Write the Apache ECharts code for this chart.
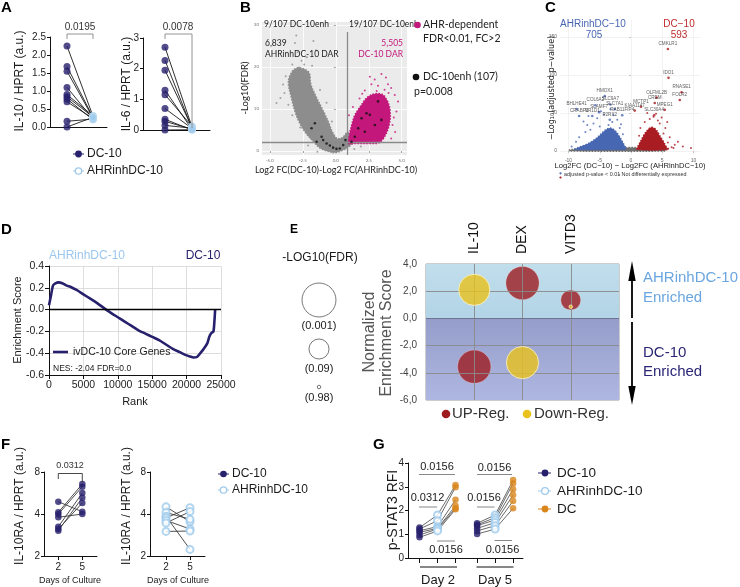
<!DOCTYPE html>
<html><head><meta charset="utf-8">
<script src="https://cdn.jsdelivr.net/npm/echarts@6/dist/echarts.min.js"></script>
<style>html,body{margin:0;padding:0;background:#fff}#c{width:740px;height:587px}</style>
</head><body><div id="c"></div>
<script>
// ---------------- DATA ----------------
// Panel A (paired DC-10 vs AHRinhDC-10)
const aGroups = ['DC-10', 'AHRinhDC-10'];
const aIL10_DC10 = [2.25, 1.68, 1.55, 1.1, 0.9, 0.84, 0.78, 0.7, 0.16, 0.0];
const aIL10_AHR  = [0.30, 0.27, 0.25, 0.22, 0.31, 0.28, 0.20, 0.24, 0.22, 0.27];
const aIL6_DC10  = [2.7, 2.27, 1.95, 1.3, 1.15, 0.7, 0.35, 0.28, 0.15, 0.0];
const aIL6_AHR   = [0.10, 0.05, 0.08, 0.02, 0.12, 0.05, 0.0, 0.03, 0.06, 0.01];

// Panel B (ATAC volcano): dense cloud outlines + individual points
const bGrayCloud = [[-0.3,-0.3],[-1.1,0.5],[-1.7,2.2],[-2.35,4.6],[-2.8,7],[-3.1,9.4],[-3.36,12.5],[-3.6,16.5],[-3.3,19],[-2.9,19.8],[-2.4,19.5],[-2.0,18.5],[-1.9,16],[-1.5,13],[-1.1,10.5],[-0.86,9],[-0.5,6.5],[-0.25,4.5],[0.1,3],[0.5,3.2],[0.9,4.5],[1.1,3],[1.2,1.8],[0.9,0.8],[0.4,0],[0,-0.4]];
const bMagCloud = [[0.95,1.8],[1.0,3.5],[1.2,6.2],[1.45,8.6],[1.95,11],[2.3,12.5],[2.8,13.5],[3.5,13.5],[3.9,12],[4.1,10],[4.1,7],[3.8,4],[3.3,2],[2.5,1.8],[1.5,1.8]];
const bGrayPts = [[-3.1,25.7],[-1.7,26.2],[-1.5,24],[-2.2,22.3],[-2.6,21.5],[-3.3,20.6],[-1.8,20.3],[-3.8,17.8],[-4.0,15.8],[-3.9,13.8],[-4.2,12.6],[-4.5,11.4],[-3.6,11],[-3.3,8.5],[-2.7,5.6],[-0.3,7],[-0.7,11.5],[-1.2,14.5],[1.4,0.5],[1.9,1.1],[-2.1,1.3],[-1.4,-0.2],[-2.8,19.9],[-2.4,20.6],[-3.0,27.5],[-2.9,23.5]];
const bMagPts = [[2.58,17.7],[2.95,17],[3.46,18.3],[3.8,17.5],[3.96,15.9],[4.2,15],[2.7,15.9],[3.2,15.5],[2.2,14.4],[4.47,13.3],[4.72,11.8],[4.6,9.4],[4.3,6.2],[4.4,8],[1.8,12.5],[2.0,13.6],[3.7,14.6],[4.0,13.8],[3.1,14.3],[4.5,4.5],[4.2,3],[1.0,8.5],[1.3,10.5]];
const bEnhPts = [[-1.59,6.6],[-1.08,3.4],[-0.96,2.6],[-0.7,1.8],[-0.45,1.3],[-0.2,0.8],[0.05,0.5],[0.3,0.6],[0.56,1.4],[0.73,2.6],[1.19,2.2],[1.44,3.4],[1.7,5.4],[1.95,7.8],[2.33,9],[2.58,8.6],[3.2,11.8],[2.96,6.2],[2.2,4.6],[3.46,7.4],[-1.46,2.2],[-1.84,5.4]];
const bXTicks = [-5, -2.5, 0, 2.5, 5];
const bYTicks = [0, 10, 20, 30];

// Panel C (RNA volcano)
const cGrayBand = [[-9.8,0],[-9.8,1.6],[-7,2.4],[-2,2.8],[-0.5,4.5],[0.6,4.5],[2,2.8],[5.5,2],[5.5,0]];
const cBlueCloud = [[-9.0,2],[-8.3,5],[-7.0,9],[-6.0,14],[-5.2,19],[-4.6,24],[-4.0,28],[-3.3,30],[-2.6,27],[-2.0,21],[-1.5,14],[-1.1,8],[-0.8,3],[-1.0,2]];
const cRedCloud = [[1.0,2],[1.1,6],[1.5,12],[2.0,20],[2.6,27],[3.3,31],[4.0,28],[4.6,20],[5.2,12],[5.6,6],[6.0,2]];
const cBluePts = [[-7.6,38.6],[-7.0,34],[-5.4,43],[-4.3,47.7],[-6.0,36],[-6.5,28],[-7.3,25],[-8.3,18],[-3.6,34],[-2.2,41],[-2.8,47],[-5.0,32],[-3.0,38],[-1.8,30],[-1.3,22],[-8.8,12],[-9.5,6],[-6.8,46],[-4.8,52],[-3.3,55],[-1.6,35]];
const cRedPts = [[4.3,40],[4.0,49],[3.6,45],[4.6,36],[5.2,23],[5.9,11],[6.5,5],[7.0,8],[6.8,4],[9.6,4],[2.2,38],[1.5,30],[3.0,42],[5.5,30],[4.9,44],[2.6,50],[6.2,18],[8.3,6],[5.8,38],[1.3,20],[7.5,12]];
const cBlueGenes = [['HMOX1',-4.2,72],['COL6A2',-5.7,60],['SLC9A7',-3.3,61],['BHLHE41',-8.7,55],['SLC7A1',-2.6,55],['SLAMF7',-5.1,51],['CRABP2',-8.3,46],['NR1D1',-6.2,46],['RAB11FIP4',-1.4,47],['P2RX2',-3.4,41]];
const cRedGenes = [['CMKLR1',5.9,134],['IDO1',6.0,96],['RNASE1',8.1,77],['OLFML2B',4.1,70],['CREM',3.8,63],['MCTP1',1.6,58],['KIAA1147',0.6,53],['MPEG1',5.4,54],['FOLR2',7.8,67],['SLC30A4',3.7,47]];
const cXTicks = [-10, -5, 0, 5, 10];
const cYTicks = [0, 50, 100, 150];

// Panel D (GSEA running enrichment score)
const dRank = [0,290,580,920,1400,2000,2600,3100,4000,5000,6000,7000,8300,9000,10000,11000,12000,13000,14000,15000,16000,17000,18000,19000,20000,20500,21000,21500,22000,22500,23000,23300,23600,23900,24050,24150];
const dES   = [0.04,0.13,0.22,0.24,0.25,0.24,0.22,0.21,0.18,0.14,0.10,0.06,0.0,-0.03,-0.07,-0.11,-0.15,-0.19,-0.22,-0.25,-0.28,-0.32,-0.36,-0.39,-0.42,-0.43,-0.44,-0.435,-0.40,-0.36,-0.31,-0.25,-0.215,-0.20,-0.10,0.0];

// Panel E (bubble: NES vs signature, size = -log10 FDR)
const eCats = ['IL-10', 'DEX', 'VITD3'];
const eUpNES = [-3.55, 2.6, 1.35];
const eUpFDR = [0.0013, 0.0013, 0.09];
const eDownNES = [2.1, -3.25, 0.86];
const eDownFDR = [0.003, 0.002, 0.98];
const eSizeLegendFDR = [0.001, 0.09, 0.98];

// Panel F (IL-10RA day 2 vs day 5)
const fDays = ['2', '5'];
const fDC10_d2 = [4.9, 4.11, 3.99, 3.79, 3.24, 3.12, 3.04];
const fDC10_d5 = [4.15, 6.56, 6.28, 4.0, 5.65, 4.8, 5.23];
const fAHR_d2 = [4.5, 4.1, 3.85, 3.75, 3.6, 3.45, 3.0];
const fAHR_d5 = [3.52, 3.67, 2.23, 4.44, 3.12, 4.16, 3.02];

// Panel G (p-STAT3)
const gDays = ['Day 2', 'Day 5'];
const gD2_DC10 = [1.28, 1.22, 1.15, 1.08, 0.97, 0.87];
const gD2_AHR  = [1.81, 1.57, 1.32, 1.25, 1.22, 1.14];
const gD2_DC   = [3.07, 2.98, 2.45, 2.2, 2.1, 2.05];
const gD5_DC10 = [1.46, 1.40, 1.36, 1.25, 1.14, 1.01];
const gD5_AHR  = [1.81, 1.70, 1.60, 1.49, 1.36, 1.22];
const gD5_DC   = [3.28, 3.14, 2.89, 2.65, 2.40, 2.09];
const gPos = [0, 1, 2, 3.2, 4.2, 5.2];

// ---------------- STYLE ----------------
const NAVY = '#27216d', LBLUE = '#9fcaec', ORANGE = '#d9861c', MAG = '#c3177b';
const EBLUE = '#4867b3', ERED = '#a81c22', BRED = '#9e1b20', BYEL = '#e9c21b';
const F = "'Liberation Sans', Arial, Helvetica, sans-serif";
const FL = "Lato, 'Open Sans', sans-serif";

const chart = echarts.init(document.getElementById('c'), null, {width: 740, height: 587});
const series = [];
const graphic = [];

function T(text, x, y, o) {
  o = o || {};
  return {type: 'text', x: x, y: y, rotation: o.r || 0, silent: true, z: 100,
    style: {text: text, fontSize: o.s || 12, fontFamily: o.f || F, fontWeight: o.w || 'normal',
      fill: o.c || '#1a1a1a', align: o.a || 'left', verticalAlign: 'middle',
      textAlign: o.a || 'left', textVerticalAlign: 'middle'}};
}
function L(x1, y1, x2, y2, c, w) {
  return {type: 'line', silent: true, z: 100, shape: {x1: x1, y1: y1, x2: x2, y2: y2}, style: {stroke: c || '#000', lineWidth: w || 1}};
}
function C(cx, cy, r, fill, stroke, lw) {
  return {type: 'circle', silent: true, z: 100, shape: {cx: cx, cy: cy, r: r}, style: {fill: fill || 'none', stroke: stroke || null, lineWidth: lw || 0}};
}
function PG(pts, fill) {
  return {type: 'polygon', silent: true, z: 100, shape: {points: pts}, style: {fill: fill}};
}
const ROT = Math.PI / 2;

function plainX(gi, min, max, extra) {
  return Object.assign({gridIndex: gi, type: 'value', min: min, max: max,
    axisLine: {show: true, onZero: false, lineStyle: {color: '#111', width: 1}},
    axisTick: {show: false}, axisLabel: {show: false}, splitLine: {show: false}}, extra || {});
}
function numY(gi, min, max, interval, fmt, extra) {
  return Object.assign({gridIndex: gi, type: 'value', min: min, max: max, interval: interval,
    axisLine: {show: true, onZero: false, lineStyle: {color: '#111', width: 1}},
    axisTick: {show: true, length: 3, lineStyle: {color: '#111'}},
    axisLabel: {fontSize: 10, color: '#222', fontFamily: F, margin: 4, formatter: fmt},
    splitLine: {show: false}}, extra || {});
}

function paired(gi, xs, a, b, stA, stB, lineColor) {
  a.forEach(function (v, i) {
    series.push({type: 'line', xAxisIndex: gi, yAxisIndex: gi, data: [[xs[0], v], [xs[1], b[i]]],
      symbol: 'none', silent: true, z: 2, lineStyle: {color: lineColor, width: 0.9}});
  });
  series.push(Object.assign({type: 'scatter', xAxisIndex: gi, yAxisIndex: gi, silent: true, z: 3,
    data: a.map(function (v) { return [xs[0], v]; })}, stA));
  series.push(Object.assign({type: 'scatter', xAxisIndex: gi, yAxisIndex: gi, silent: true, z: 4,
    data: b.map(function (v) { return [xs[1], v]; })}, stB));
}
const stNavy = {symbol: 'circle', symbolSize: 7, itemStyle: {color: NAVY}};
const stLBfill = {symbol: 'circle', symbolSize: 7, itemStyle: {color: LBLUE, borderColor: '#c9e1f5', borderWidth: 0.6}};
const stLBopen = {symbol: 'emptyCircle', symbolSize: 7, itemStyle: {color: LBLUE, borderColor: LBLUE, borderWidth: 1.3}};
const stOrange = {symbol: 'circle', symbolSize: 6.5, itemStyle: {color: ORANGE}};

function cloud(gi, verts, color, z) {
  series.push({type: 'custom', xAxisIndex: gi, yAxisIndex: gi, silent: true, z: z || 1, clip: true,
    data: verts,
    renderItem: function (params, api) {
      if (params.dataIndex !== 0) return null;
      return {type: 'polygon', shape: {points: verts.map(function (p) { return api.coord(p); }), smooth: 0.35},
        style: {fill: color, stroke: color, lineWidth: 1.5, lineDash: [1.5, 1.5]}};
    }});
}
function pts(gi, data, color, size, z) {
  series.push({type: 'scatter', xAxisIndex: gi, yAxisIndex: gi, silent: true, z: z || 2, data: data,
    symbolSize: size, itemStyle: {color: color}});
}

// ---------------- GRIDS ----------------
const grids = [
  {left: 50, top: 37, width: 57, height: 90},
  {left: 143, top: 38, width: 67, height: 92},
  {left: 262, top: 22, width: 145, height: 133, show: true, backgroundColor: '#ebebeb', borderWidth: 0},
  {left: 560, top: 20, width: 140, height: 135, show: true, backgroundColor: '#ffffff', borderWidth: 0},
  {left: 49, top: 266, width: 172, height: 109},
  {left: 426, top: 264, width: 193, height: 136, show: true, borderColor: '#9a9a9a', borderWidth: 1},
  {left: 44, top: 472, width: 53, height: 84},
  {left: 150, top: 472, width: 55, height: 84},
  {left: 408, top: 463, width: 115, height: 95}
];

const xAxes = [];
const yAxes = [];
xAxes.push(plainX(0, -0.654, 1.538));
yAxes.push(numY(0, 0, 2.5, 0.5, function (v) { return v.toFixed(1); }));
xAxes.push(plainX(1, -0.815, 1.667));
yAxes.push(numY(1, 0, 3, 1, function (v) { return String(v); }));
xAxes.push({gridIndex: 2, type: 'value', min: -5.6, max: 5.4,
  axisLine: {show: false}, axisTick: {show: true, customValues: bXTicks, length: 2, lineStyle: {color: '#666', width: 0.6}},
  axisLabel: {customValues: bXTicks, fontSize: 4.5, color: '#777', margin: 3, fontFamily: FL, formatter: function (v) { return v.toFixed(1); }},
  splitLine: {show: true, lineStyle: {color: '#ffffff', width: 0.8}}});
yAxes.push({gridIndex: 2, type: 'value', min: -0.95, max: 30.7,
  axisLine: {show: false}, axisTick: {show: true, customValues: bYTicks, length: 2, lineStyle: {color: '#666', width: 0.6}},
  axisLabel: {customValues: bYTicks, fontSize: 4.5, color: '#777', margin: 3, fontFamily: FL},
  splitLine: {show: true, lineStyle: {color: '#ffffff', width: 0.8}}});
xAxes.push({gridIndex: 3, type: 'value', min: -11.36, max: 11.04,
  axisLine: {show: false}, axisTick: {show: true, customValues: cXTicks, length: 2, lineStyle: {color: '#999', width: 0.5}},
  axisLabel: {customValues: cXTicks, fontSize: 5, color: '#666', margin: 3},
  splitLine: {show: true, lineStyle: {color: '#ececec', width: 0.7}}});
yAxes.push({gridIndex: 3, type: 'value', min: -5.3, max: 172,
  axisLine: {show: false}, axisTick: {show: true, customValues: cYTicks, length: 2, lineStyle: {color: '#999', width: 0.5}},
  axisLabel: {customValues: cYTicks, fontSize: 5, color: '#666', margin: 3},
  splitLine: {show: true, lineStyle: {color: '#ececec', width: 0.7}}});
xAxes.push({gridIndex: 4, type: 'value', min: 0, max: 25000, interval: 5000,
  axisLine: {show: true, onZero: false, lineStyle: {color: '#111'}}, axisTick: {show: true, length: 4, lineStyle: {color: '#111'}},
  axisLabel: {fontSize: 10.5, color: '#222', margin: 5, fontFamily: F, formatter: function (v) { return String(v); }},
  splitLine: {show: true, lineStyle: {color: '#d6d6d6', width: 0.8}}});
yAxes.push({gridIndex: 4, type: 'value', min: -0.6, max: 0.4, interval: 0.2,
  axisLine: {show: true, onZero: false, lineStyle: {color: '#111'}}, axisTick: {show: true, length: 4, lineStyle: {color: '#111'}},
  axisLabel: {fontSize: 10.5, color: '#222', margin: 5, fontFamily: F, formatter: function (v) { return v.toFixed(1); }},
  splitLine: {show: true, lineStyle: {color: '#d6d6d6', width: 0.8}}});
xAxes.push({gridIndex: 5, type: 'value', min: 0, max: 4, interval: 1, position: 'top',
  axisLine: {show: false}, axisTick: {show: false},
  axisLabel: {rotate: 90, fontSize: 14, color: '#111', margin: 10, fontFamily: F,
    formatter: function (v) { return eCats[v - 1] || ''; }},
  splitLine: {show: false}});
yAxes.push({gridIndex: 5, type: 'value', min: -6, max: 4, interval: 2,
  axisLine: {show: false}, axisTick: {show: false},
  axisLabel: {fontSize: 10, color: '#444', margin: 9, fontFamily: F, formatter: function (v) { return v.toFixed(1).replace('.', ','); }},
  splitLine: {show: false}});
[[6, -0.596, 1.612], [7, -0.667, 1.625]].forEach(function (g) {
  xAxes.push(plainX(g[0], g[1], g[2], {
    axisTick: {show: true, customValues: [0, 1], length: 4, lineStyle: {color: '#111'}},
    axisLabel: {show: true, customValues: [0, 1], fontSize: 10, color: '#222', margin: 6, fontFamily: F,
      formatter: function (v) { return fDays[Math.round(v)]; }}}));
  yAxes.push({gridIndex: g[0], type: 'log', logBase: 2, min: 2, max: 8,
    axisLine: {show: true, onZero: false, lineStyle: {color: '#111'}}, axisTick: {show: true, length: 3, lineStyle: {color: '#111'}},
    axisLabel: {fontSize: 10, color: '#222', margin: 4, fontFamily: F}, splitLine: {show: false}, minorTick: {show: false}});
});
xAxes.push(plainX(8, -0.64, 5.75, {axisTick: {show: true, customValues: gPos, length: 5, lineStyle: {color: '#111'}}}));
yAxes.push(numY(8, 0, 4, 1, function (v) { return String(v); }));

// ---------------- SERIES ----------------
paired(0, [0, 1], aIL10_DC10, aIL10_AHR, stNavy, stLBfill, '#1a1a1a');
paired(1, [0, 1], aIL6_DC10, aIL6_AHR, stNavy, stLBfill, '#1a1a1a');

cloud(2, bGrayCloud, '#8d8d8d', 1);
cloud(2, bMagCloud, MAG, 2);
pts(2, bGrayPts, '#8d8d8d', 2, 3);
pts(2, bMagPts, MAG, 2, 3);
series.push({type: 'scatter', xAxisIndex: 2, yAxisIndex: 2, silent: true, z: 5, data: bEnhPts, symbolSize: 2.6,
  itemStyle: {color: '#111'},
  markLine: {silent: true, symbol: 'none', label: {show: false}, lineStyle: {color: '#8a8a8a', width: 1.3, type: 'solid'},
    data: [[{coord: [0.9, -0.95]}, {coord: [0.9, 28.3]}], [{coord: [-5.6, 2]}, {coord: [5.4, 2]}]]}});

cloud(3, cGrayBand, '#6f6f6f', 1);
cloud(3, cBlueCloud, EBLUE, 2);
cloud(3, cRedCloud, ERED, 2);
pts(3, cBluePts, EBLUE, 2, 3);
pts(3, cRedPts, ERED, 2, 3);
[[cBlueGenes, EBLUE], [cRedGenes, ERED]].forEach(function (g) {
  series.push({type: 'scatter', xAxisIndex: 3, yAxisIndex: 3, silent: true, z: 4, symbolSize: 2.6,
    itemStyle: {color: g[1]},
    data: g[0].map(function (d) { return {name: d[0], value: [d[1], d[2]]}; }),
    label: {show: true, formatter: '{b}', fontSize: 4.6, color: '#333', fontFamily: F, distance: 1.5, position: 'top'}});
});

series.push({type: 'line', xAxisIndex: 4, yAxisIndex: 4, silent: true, z: 3, symbol: 'none', smooth: 0.25,
  data: dRank.map(function (r, i) { return [r, dES[i]]; }),
  lineStyle: {color: NAVY, width: 2.6},
  markLine: {silent: true, symbol: 'none', label: {show: false}, lineStyle: {color: '#000', width: 1.3, type: 'solid'},
    data: [{yAxis: 0}]}});

function eSize(fdr) { return Math.max(3.5, 19.6 * Math.sqrt(-Math.log10(fdr))); }
series.push({type: 'line', xAxisIndex: 5, yAxisIndex: 5, silent: true, z: 1, data: [],
  markArea: {silent: true, data: [
    [{yAxis: 0, itemStyle: {color: {type: 'linear', x: 0, y: 0, x2: 0, y2: 1, colorStops: [{offset: 0, color: '#c1deec'}, {offset: 1, color: '#b2d4e6'}]}}}, {yAxis: 4}],
    [{yAxis: -6, itemStyle: {color: {type: 'linear', x: 0, y: 0, x2: 0, y2: 1, colorStops: [{offset: 0, color: '#959dca'}, {offset: 1, color: '#aeb7e1'}]}}}, {yAxis: 0}]
  ]},
  markLine: {silent: true, symbol: 'none', label: {show: false}, lineStyle: {color: '#8a8a8a', width: 0.9, type: 'solid'},
    data: [{xAxis: 1}, {xAxis: 2}, {xAxis: 3}, {yAxis: -4}, {yAxis: -2}, {yAxis: 2},
      {yAxis: 0, lineStyle: {color: '#6f7590', width: 1.2}}]}});
series.push({type: 'scatter', xAxisIndex: 5, yAxisIndex: 5, silent: true, z: 4,
  data: eUpNES.map(function (v, i) { return [i + 1, v, eUpFDR[i]]; }),
  symbolSize: function (d) { return eSize(d[2]); },
  itemStyle: {color: BRED, borderColor: 'rgba(255,220,220,0.5)', borderWidth: 0.8}});
series.push({type: 'scatter', xAxisIndex: 5, yAxisIndex: 5, silent: true, z: 5,
  data: eDownNES.map(function (v, i) { return [i + 1, v, eDownFDR[i]]; }),
  symbolSize: function (d) { return eSize(d[2]); },
  itemStyle: {color: BYEL, borderColor: '#fff6c8', borderWidth: 1}});

paired(6, [0, 1], fDC10_d2, fDC10_d5, {symbol: 'circle', symbolSize: 6.5, itemStyle: {color: NAVY}}, {symbol: 'circle', symbolSize: 6.5, itemStyle: {color: NAVY}}, '#3a3a3a');
paired(7, [0, 1], fAHR_d2, fAHR_d5, stLBopen, stLBopen, '#3a3a3a');

[[gD2_DC10, gD2_AHR, gD2_DC, 0], [gD5_DC10, gD5_AHR, gD5_DC, 3]].forEach(function (g) {
  const p0 = gPos[g[3]], p1 = gPos[g[3] + 1], p2 = gPos[g[3] + 2];
  g[0].forEach(function (v, i) {
    series.push({type: 'line', xAxisIndex: 8, yAxisIndex: 8, silent: true, z: 2, symbol: 'none',
      data: [[p0, v], [p1, g[1][i]], [p2, g[2][i]]], lineStyle: {color: '#444', width: 0.8}});
  });
  series.push(Object.assign({type: 'scatter', xAxisIndex: 8, yAxisIndex: 8, silent: true, z: 3, data: g[0].map(function (v) { return [p0, v]; })}, {symbol: 'circle', symbolSize: 6.5, itemStyle: {color: NAVY}}));
  series.push(Object.assign({type: 'scatter', xAxisIndex: 8, yAxisIndex: 8, silent: true, z: 4, data: g[1].map(function (v) { return [p1, v]; })}, stLBopen));
  series.push(Object.assign({type: 'scatter', xAxisIndex: 8, yAxisIndex: 8, silent: true, z: 3, data: g[2].map(function (v) { return [p2, v]; })}, stOrange));
});

// ---------------- TEXT / ANNOTATIONS ----------------
[['A', 1, 8], ['B', 240, 8], ['C', 545, 8], ['D', 1, 230], ['F', 1, 445], ['G', 373, 445]].forEach(function (p) {
  graphic.push(T(p[0], p[1], p[2], {s: 15, w: 'bold', c: '#000'}));
});
graphic.push(T('E', 290, 230, {s: 12, w: 'bold', c: '#000'}));

graphic.push(T('IL-10 / HPRT (a.u.)', 20, 81, {s: 12, r: ROT, a: 'center'}));
graphic.push(T('IL-6 / HPRT (a.u.)', 127, 84, {s: 12, r: ROT, a: 'center'}));
graphic.push(L(67, 39, 67, 34, '#888', 0.9), L(67, 34, 93, 34, '#888', 0.9), L(93, 34, 93, 39, '#888', 0.9));
graphic.push(T('0.0195', 80, 27, {s: 10, a: 'center', c: '#333'}));
graphic.push(L(165, 39, 165, 34, '#888', 0.9), L(165, 34, 192, 34, '#888', 0.9), L(192, 34, 192, 128, '#888', 0.9));
graphic.push(T('0.0078', 178, 27, {s: 10, a: 'center', c: '#333'}));
graphic.push(L(73, 154, 84, 154, NAVY, 1), C(78.5, 154, 3.4, NAVY), T(aGroups[0], 87, 154, {s: 12}));
graphic.push(L(73, 171, 84, 171, LBLUE, 1), C(78.5, 171, 3.2, '#fff', LBLUE, 1.3), T(aGroups[1], 87, 171, {s: 12}));

graphic.push(T('9/107 DC-10enh', 264, 24, {s: 8.5, f: FL, c: '#222'}));
graphic.push(T('19/107 DC-10enh', 349, 24, {s: 8.5, f: FL, c: '#222'}));
graphic.push(T('6,839', 265, 43, {s: 8.5, f: FL, c: '#222'}));
graphic.push(T('AHRinhDC-10 DAR', 265, 54, {s: 8.5, f: FL, c: '#222'}));
graphic.push(T('5,505', 403, 43, {s: 8.5, f: FL, c: MAG, a: 'right'}));
graphic.push(T('DC-10 DAR', 403, 54, {s: 8.5, f: FL, c: MAG, a: 'right'}));
graphic.push(T('-Log10(FDR)', 245, 88, {s: 9.5, f: FL, r: ROT, a: 'center', c: '#222'}));
graphic.push(T('Log2 FC(DC-10)-Log2 FC(AHRinhDC-10)', 336, 170, {s: 9, f: FL, a: 'center', c: '#222'}));
graphic.push(C(417.5, 25, 3.3, MAG), T('AHR-dependent', 423, 25, {s: 10.5, f: FL, c: '#222'}));
graphic.push(T('FDR<0.01, FC>2', 423, 39, {s: 10.5, f: FL, c: '#222'}));
graphic.push(C(416, 77, 3.3, '#111'), T('DC-10enh (107)', 423, 77, {s: 10.5, f: FL, c: '#222'}));
graphic.push(T('p=0.008', 414, 92, {s: 10.5, f: FL, c: '#222'}));

graphic.push(T('AHRinhDC\u221210', 593, 24, {s: 10, a: 'center', c: EBLUE}));
graphic.push(T('705', 594, 35, {s: 10, a: 'center', c: EBLUE}));
graphic.push(T('DC\u221210', 679, 24, {s: 10, a: 'center', c: '#bf2a2e'}));
graphic.push(T('593', 679, 35, {s: 10, a: 'center', c: '#bf2a2e'}));
graphic.push(T('\u2212Log\u2081\u2080(adjusted p\u2212value)', 552, 88, {s: 8, r: ROT, a: 'center', c: '#222', f: "'DejaVu Sans', " + F}));
graphic.push(T('Log2FC (DC\u221210) \u2212 Log2FC (AHRinhDC\u221210)', 630, 166, {s: 7.6, a: 'center', c: '#222'}));
graphic.push(C(560.5, 173.3, 1.1, EBLUE), C(560.5, 177.5, 1.1, ERED));
graphic.push(T('adjusted p-value < 0.01', 564, 175, {s: 5.4, c: '#333'}));
graphic.push(C(619, 175, 1.1, '#777'), T('Not differentially expressed', 621.5, 175, {s: 5.4, c: '#333'}));

graphic.push(T('AHRinhDC-10', 87, 256, {s: 12, a: 'center', c: '#9cc7ee'}));
graphic.push(T('DC-10', 203, 256, {s: 12, a: 'center', c: NAVY}));
graphic.push(T('Enrichment Score', 18, 320, {s: 11, r: ROT, a: 'center'}));
graphic.push(T('Rank', 135, 402, {s: 11, a: 'center'}));
graphic.push(L(53, 352, 68, 352, NAVY, 2.6), T('ivDC-10 Core Genes', 73, 352, {s: 10.5}));
graphic.push(T('NES: -2.04 FDR=0.0', 53, 369, {s: 8.5}));

graphic.push(T('-LOG10(FDR)', 320, 258, {s: 12, a: 'center'}));
[[300, 326], [349, 369], [387, 398]].forEach(function (p, i) {
  graphic.push(C(319, p[0], eSize(eSizeLegendFDR[i]) / 2, 'none', '#555', 0.8));
  graphic.push(T('(' + eSizeLegendFDR[i] + ')', 319, p[1], {s: 11, a: 'center'}));
});
graphic.push(T('Normalized', 370, 332, {s: 16, r: ROT, a: 'center', c: '#555'}));
graphic.push(T('Enrichment Score', 387, 333, {s: 16, r: ROT, a: 'center', c: '#555'}));
graphic.push(L(632, 278, 632, 318, '#000', 1.8), PG([[632, 261], [628.3, 281], [635.7, 281]], '#000'));
graphic.push(L(632, 322, 632, 388, '#000', 1.8), PG([[632, 405], [628.3, 386], [635.7, 386]], '#000'));
graphic.push(T('AHRinhDC-10', 643, 278, {s: 15, c: '#6aa6e0'}), T('Enriched', 643, 298, {s: 15, c: '#6aa6e0'}));
graphic.push(T('DC-10', 643, 353, {s: 15, c: '#2b2776'}), T('Enriched', 643, 372, {s: 15, c: '#2b2776'}));
graphic.push(C(446, 414, 4.3, BRED), T('UP-Reg.', 452, 414, {s: 15, c: '#333'}));
graphic.push(C(527, 414, 4.3, BYEL), T('Down-Reg.', 534, 414, {s: 15, c: '#333'}));

graphic.push(T('IL-10RA / HPRT (a.u.)', 20, 506, {s: 12, r: ROT, a: 'center'}));
graphic.push(T('IL-10RA / HPRT (a.u.)', 127, 506, {s: 12, r: ROT, a: 'center'}));
graphic.push(T('Days of Culture', 70, 581, {s: 9, a: 'center'}));
graphic.push(T('Days of Culture', 178, 581, {s: 9, a: 'center'}));
graphic.push(L(58.3, 479, 58.3, 473.5, '#333', 0.9), L(58.3, 473.5, 82.3, 473.5, '#333', 0.9), L(82.3, 473.5, 82.3, 482, '#333', 0.9));
graphic.push(T('0.0312', 70, 466, {s: 9, a: 'center', c: '#333'}));
graphic.push(L(218, 474, 229, 474, NAVY, 1), C(223.5, 474, 3.3, NAVY), T('DC-10', 232, 474, {s: 12}));
graphic.push(L(218, 490, 229, 490, LBLUE, 1), C(223.5, 490, 3.2, '#fff', LBLUE, 1.3), T('AHRinhDC-10', 232, 490, {s: 12}));

graphic.push(T('p-STAT3 RFI', 393, 510, {s: 14, r: ROT, a: 'center'}));
graphic.push(L(420, 567, 457, 567, '#111', 1), T(gDays[0], 438, 580, {s: 13, a: 'center'}));
graphic.push(L(476.5, 567, 513.5, 567, '#111', 1), T(gDays[1], 495, 580, {s: 13, a: 'center'}));
graphic.push(L(419, 474.5, 455, 474.5, '#888', 1), T('0.0156', 437, 467, {s: 11, a: 'center'}));
graphic.push(L(419, 507, 437, 507, '#888', 1), T('0.0312', 427.5, 498, {s: 11, a: 'center'}));
graphic.push(L(437, 541, 455, 541, '#888', 1), T('0.0156', 446, 549.5, {s: 11, a: 'center'}));
graphic.push(L(477, 474.5, 512, 474.5, '#888', 1), T('0.0156', 494.5, 467.5, {s: 11, a: 'center'}));
graphic.push(L(477, 507, 494.5, 507, '#888', 1), T('0.0156', 484, 498, {s: 11, a: 'center'}));
graphic.push(L(494.5, 540.5, 512, 540.5, '#888', 1), T('0.0156', 502.5, 550, {s: 11, a: 'center'}));
graphic.push(L(538, 473, 551, 473, NAVY, 1), C(545, 473, 3.4, NAVY), T('DC-10', 557, 473, {s: 13.5}));
graphic.push(L(538, 491, 551, 491, LBLUE, 1), C(545, 491, 3.4, '#fff', LBLUE, 1.3), T('AHRinhDC-10', 557, 491, {s: 13.5}));
graphic.push(L(538, 509, 551, 509, ORANGE, 1), C(545, 509, 3.4, ORANGE), T('DC', 557, 509, {s: 13.5}));

chart.setOption({
  animation: false,
  backgroundColor: '#ffffff',
  grid: grids,
  xAxis: xAxes,
  yAxis: yAxes,
  series: series,
  graphic: {elements: graphic}
});
</script></body></html>
